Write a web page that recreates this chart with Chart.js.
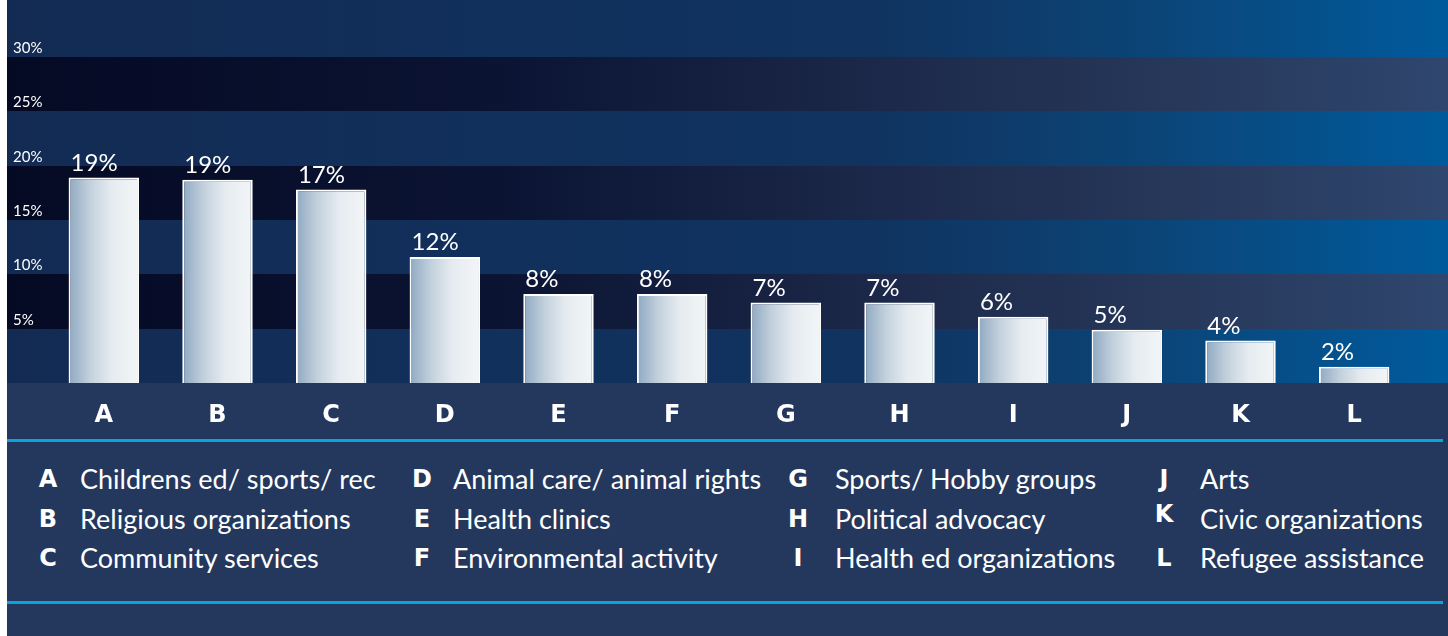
<!DOCTYPE html>
<html>
<head>
<meta charset="utf-8" />
<title>Volunteering by cause</title>
<script src="https://cdn.jsdelivr.net/npm/chart.js@4.4.1/dist/chart.umd.min.js"></script>
<style>
    body { margin: 0; background: #fff; font-family: Lato, "Open Sans", sans-serif; }
    #wrap { position: relative; width: 1448px; height: 636px; overflow: hidden; }
    #chartBox { position: absolute; left: 0; top: 0; width: 1448px; height: 438px; }
    #legend { position: absolute; left: 7px; top: 438px; width: 1441px; height: 198px; background: #24385e; }
    .rule { position: absolute; left: 0; width: 1436px; height: 3px; background: #0aa3e0; }
    .item { position: absolute; height: 30px; line-height: 30px; color: #fff; white-space: nowrap; }
    .key { font-family: "DejaVu Sans", sans-serif; font-weight: bold; font-size: 24px; width: 40px; text-align: center; }
    .name { font-size: 27px; }
</style>
</head>
<body>
<div id="wrap">
    <div id="chartBox"><canvas id="grafico"></canvas></div>
    <div id="legend">
        <div class="rule" style="top:1px"></div>
        <div class="rule" style="top:163px"></div>
    </div>
</div>
<script type="text/javascript">
    // categories and values
    var letters = ['A', 'B', 'C', 'D', 'E', 'F', 'G', 'H', 'I', 'J', 'K', 'L'];
    var names = [
        'Childrens ed/ sports/ rec', 'Religious organizations', 'Community services',
        'Animal care/ animal rights', 'Health clinics', 'Environmental activity',
        'Sports/ Hobby groups', 'Political advocacy', 'Health ed organizations',
        'Arts', 'Civic organizations', 'Refugee assistance'
    ];
    var share = [18.9, 18.7, 17.8, 11.6, 8.2, 8.2, 7.4, 7.4, 6.1, 4.9, 3.9, 1.5];
    var printed = ['19%', '19%', '17%', '12%', '8%', '8%', '7%', '7%', '6%', '5%', '4%', '2%'];
    var yTicks = [5, 10, 15, 20, 25, 30];

    var barPct = 0.62;

    // legend, 3 rows x 4 columns
    var legend = document.getElementById('legend');
    var keyX = [41, 415, 791, 1157];
    var nameX = [73, 446, 828, 1193];
    var rowY = [41, 81, 120];
    letters.forEach(function (l, i) {
        var col = Math.floor(i / 3), row = i % 3;
        var k = document.createElement('div');
        k.className = 'item key';
        k.textContent = l;
        k.style.left = (keyX[col] - 20) + 'px';
        k.style.top = (rowY[row] - 15 - (l === 'K' ? 5 : 0)) + 'px';
        legend.appendChild(k);
        var n = document.createElement('div');
        n.className = 'item name';
        n.textContent = names[i];
        n.style.left = nameX[col] + 'px';
        n.style.top = (rowY[row] - 15) + 'px';
        legend.appendChild(n);
    });

    var bandLight = ['#132b53', '#11305c', '#10335f', '#0b4578', '#005a9c'];
    var bandDark = ['#050a24', '#0b1433', '#1c2849', '#263759', '#2f466e'];
    function hGrad(ctx, x0, x1, stops) {
        var g = ctx.createLinearGradient(x0, 0, x1, 0);
        var pos = [0, 0.35, 0.6, 0.8, 1];
        stops.forEach(function (c, i) { g.addColorStop(pos[i], c); });
        return g;
    }

    var fondo = {
        id: 'fondo',
        beforeDraw: function (chart) {
            var ctx = chart.ctx, y = chart.scales.y, area = chart.chartArea;
            var W = chart.width, H = chart.height;
            var bottom = Math.round(area.bottom);
            ctx.save();
            ctx.fillStyle = '#fff';
            ctx.fillRect(0, 0, W, H);
            ctx.fillStyle = '#24385e';
            ctx.fillRect(7, bottom, W - 7, H - bottom);
            var light = hGrad(ctx, 7, W, bandLight);
            var dark = hGrad(ctx, 7, W, bandDark);
            ctx.fillStyle = light;
            ctx.fillRect(7, 0, W - 7, Math.round(y.getPixelForValue(30)));
            for (var v = 0; v < 30; v += 5) {
                var top = Math.round(y.getPixelForValue(v + 5)), bot = Math.round(y.getPixelForValue(v));
                ctx.fillStyle = (v / 5) % 2 === 0 ? light : dark;
                ctx.fillRect(7, top, W - 7, bot - top);
            }
            ctx.restore();
        }
    };

    var rotulos = {
        id: 'rotulos',
        afterDatasetsDraw: function (chart) {
            var ctx = chart.ctx;
            ctx.save();
            ctx.fillStyle = '#ffffff';
            ctx.font = '24px Lato';
            ctx.textAlign = 'left';
            ctx.textBaseline = 'alphabetic';
            chart.getDatasetMeta(0).data.forEach(function (bar, i) {
                ctx.fillText(printed[i], bar.x - bar.width / 2 + 2, bar.y - 7);
            });
            ctx.restore();
        }
    };

    var config = {
        type: 'bar',
        data: {
            labels: letters,
            datasets: [{
                data: share,
                backgroundColor: function (c) {
                    var chart = c.chart, xs = chart.scales.x;
                    if (!chart.chartArea || !xs) return '#dfe6ec';
                    var cx = xs.getPixelForValue(c.dataIndex);
                    var w = xs.width / letters.length * barPct;
                    var g = chart.ctx.createLinearGradient(cx - w / 2, 0, cx + w / 2, 0);
                    g.addColorStop(0, '#8ea8c1');
                    g.addColorStop(0.3, '#c2d0dc');
                    g.addColorStop(0.6, '#e5ebf0');
                    g.addColorStop(1, '#f3f6f7');
                    return g;
                },
                borderColor: '#ffffff',
                borderWidth: 2,
                borderSkipped: 'bottom',
                barPercentage: barPct,
                categoryPercentage: 1
            }]
        },
        options: {
            responsive: true,
            maintainAspectRatio: false,
            animation: false,
            layout: { padding: { top: 57, left: 13, right: 37, bottom: 0 } },
            plugins: { legend: { display: false }, tooltip: { enabled: false } },
            scales: {
                x: {
                    grid: { display: false, drawTicks: false },
                    border: { display: false },
                    ticks: { color: '#ffffff', font: { family: 'DejaVu Sans', weight: 'bold', size: 24 }, padding: 18 },
                    afterFit: function (s) { s.height = 55; }
                },
                y: {
                    min: 0,
                    max: 30,
                    grid: { display: false, drawTicks: false },
                    border: { display: false },
                    afterBuildTicks: function (s) {
                        s.ticks = [{ value: 0 }].concat(yTicks.map(function (v) { return { value: v }; }));
                    },
                    ticks: {
                        color: '#ffffff',
                        font: { family: 'Lato', size: 15 },
                        crossAlign: 'far',
                        labelOffset: -9,
                        padding: 0,
                        callback: function (v) { return v === 0 ? '' : v + '%'; }
                    },
                    afterFit: function (s) { s.width = 34; }
                }
            }
        },
        plugins: [fondo, rotulos]
    };

    var grafico = new Chart(document.getElementById('grafico').getContext('2d'), config);
</script>
</body>
</html>
